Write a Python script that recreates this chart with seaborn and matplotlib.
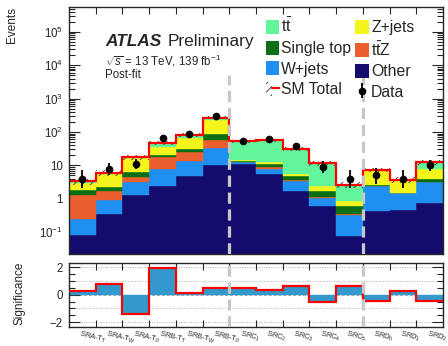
import numpy as np
import pandas as pd
import matplotlib
matplotlib.use("Agg")
import matplotlib.pyplot as plt
import seaborn as sns
from matplotlib.patches import Patch
from matplotlib.lines import Line2D
from matplotlib.legend_handler import HandlerTuple
from matplotlib.ticker import LogLocator, NullFormatter, MultipleLocator

# ---------------- data ----------------
regions = ['SRA-TT', 'SRA-TW', 'SRA-T0', 'SRB-TT', 'SRB-TW', 'SRB-T0',
           'SRC1', 'SRC2', 'SRC3', 'SRC4', 'SRC5', 'SRD0', 'SRD1', 'SRD2']
tick_labels = [r'SRA-T$_{\mathrm{T}}$', r'SRA-T$_{\mathrm{W}}$', r'SRA-T$_{\mathrm{0}}$',
               r'SRB-T$_{\mathrm{T}}$', r'SRB-T$_{\mathrm{W}}$', r'SRB-T$_{\mathrm{0}}$',
               r'SRC$_{\mathrm{1}}$', r'SRC$_{\mathrm{2}}$', r'SRC$_{\mathrm{3}}$',
               r'SRC$_{\mathrm{4}}$', r'SRC$_{\mathrm{5}}$', r'SRD$_{\mathrm{0}}$',
               r'SRD$_{\mathrm{1}}$', r'SRD$_{\mathrm{2}}$']

other     = [0.083, 0.35, 1.32, 2.46, 4.9, 10.3, 11.0, 5.5, 1.74, 0.62, 0.077, 0.44, 0.46, 0.77]
wjets     = [0.163, 0.56, 1.8, 5.4, 8.3, 23.0, 1.3, 2.3, 1.76, 0.43, 0.24, 2.0, 0.98, 2.3]
ttz       = [1.04, 0.75, 1.3, 9.5, 12.8, 25.0, 0.3, 0.9, 0.2, 0.1, 0.02, 0.02, 0.02, 0.05]
singletop = [0.53, 0.52, 1.8, 3.6, 6.0, 30.0, 0.5, 2.3, 1.0, 0.6, 0.25, 0.05, 0.03, 0.75]
zjets     = [1.2, 3.3, 10.4, 15.0, 34.0, 142.0, 1.4, 1.9, 0.8, 0.72, 0.28, 4.6, 2.0, 3.9]
ttbar     = [0.28, 0.5, 0.8, 10.0, 17.0, 40.0, 37.5, 44.7, 25.5, 9.0, 1.75, 0.1, 0.15, 4.7]
sm_rel_unc = [0.22, 0.18, 0.15, 0.14, 0.12, 0.10, 0.10, 0.10, 0.12, 0.15, 0.22, 0.15, 0.2, 0.15]
data      = [4, 8, 11, 68, 88, 300, 55, 62, 38, 9, 4, 5, 4, 10]
significance = [0.24, 0.8, -1.38, 1.95, 0.12, 0.45, 0.45, 0.36, 0.64, -0.5, 0.64, -0.43, 0.29, -0.48]

processes = {
    r't$\bar{\mathrm{t}}$': (ttbar, '#62f59c'),
    'Z+jets': (zjets, '#f5f51e'),
    'Single top': (singletop, '#0a6e14'),
    r't$\bar{\mathrm{t}}$Z': (ttz, '#ea5f2d'),
    'W+jets': (wjets, '#1f8ff0'),
    'Other': (other, '#140c6c'),
}

# ---------------- style ----------------
sns.set_theme(style='ticks')
plt.rcParams['font.family'] = ['Liberation Sans', 'DejaVu Sans']
plt.rcParams['mathtext.fontset'] = 'custom'
plt.rcParams['mathtext.rm'] = 'Liberation Sans'
plt.rcParams['mathtext.it'] = 'Liberation Sans:italic'
plt.rcParams['mathtext.bf'] = 'Liberation Sans:bold'
plt.rcParams['hatch.linewidth'] = 0.6
plt.rcParams['axes.linewidth'] = 1.0

nb = len(regions)
edges = np.arange(nb + 1)
centers = edges[:-1] + 0.5

rows = []
for name, (vals, col) in processes.items():
    for i, v in enumerate(vals):
        rows.append({'x': centers[i], 'events': v, 'process': name})
df = pd.DataFrame(rows)
palette = {k: c for k, (v, c) in processes.items()}
total = np.sum([np.array(v) for v, c in processes.values()], axis=0)

fig = plt.figure(figsize=(4.48, 3.46), dpi=100)
ax = fig.add_axes([69/448, 1-254/346, 374/448, 247/346])
ax2 = fig.add_axes([69/448, 1-327/346, 374/448, 64/346])

# stacked backgrounds
sns.histplot(df, x='x', weights='events', hue='process', hue_order=list(processes.keys()),
             palette=palette, multiple='stack', binwidth=1, binrange=(0, nb), element='bars',
             alpha=1, linewidth=0, legend=False, ax=ax)
for p in ax.patches:
    p.set_edgecolor(p.get_facecolor())
    p.set_linewidth(0.3)
ax.set_yscale('log')

unc = np.array(sm_rel_unc)
ax.stairs(total * (1 + unc), edges, baseline=total * (1 - unc), fill=True,
          facecolor='none', edgecolor='#333333', hatch='////', linewidth=0)
ax.stairs(total, edges, baseline=None, color='#ff0000', linewidth=1.6)

d = np.array(data, dtype=float)
err_up = np.sqrt(d + 0.75) + 1.0
err_dn = np.sqrt(np.maximum(d - 0.25, 0))
eb = ax.errorbar(centers, d, yerr=[err_dn, err_up], fmt='o', color='black',
                 ms=4.5, elinewidth=1.3, capsize=0, zorder=5)

ax.vlines([6, 11], 0.022, 5000, colors='#c8c8c8', linewidth=2.3,
          linestyles=[(0, (3.5, 1.8))], zorder=4)

ax.set_xlim(0, nb)
ax.set_ylim(0.022, 5.6e5)
ax.set_xlabel('')
ax.set_ylabel('')
ax.set_xticks(edges[1:-1])
ax.set_xticklabels([])
ax.set_yticks([0.1, 1, 10, 100, 1e3, 1e4, 1e5],
              labels=[r'$10^{-1}$', '1', '10', r'$10^{2}$', r'$10^{3}$', r'$10^{4}$', r'$10^{5}$'])
ax.yaxis.set_minor_locator(LogLocator(base=10, subs=np.arange(2, 10), numticks=100))
ax.yaxis.set_minor_formatter(NullFormatter())
ax.tick_params(which='both', direction='in', top=True, right=True, width=0.8, labelsize=8.3)
ax.tick_params(axis='y', which='major', length=8, pad=4.5)
ax.tick_params(axis='y', which='minor', length=4)
ax.tick_params(axis='x', which='major', length=5)

# texts
ax.text(0.096, 0.843, 'ATLAS', transform=ax.transAxes, fontsize=12.4,
        fontweight='bold', fontstyle='italic', va='baseline', ha='left')
ax.text(0.265, 0.843, 'Preliminary', transform=ax.transAxes, fontsize=12.4,
        va='baseline', ha='left')
ax.text(0.096, 0.765, r'$\sqrt{s}$ = 13 TeV, 139 fb$^{-1}$', transform=ax.transAxes,
        fontsize=8.3, va='baseline', ha='left')
ax.text(0.096, 0.713, 'Post-fit', transform=ax.transAxes, fontsize=8.3,
        va='baseline', ha='left')

# legend
h_tt = Patch(facecolor=palette[r't$\bar{\mathrm{t}}$'], edgecolor='none')
h_z = Patch(facecolor=palette['Z+jets'], edgecolor='none')
h_st = Patch(facecolor=palette['Single top'], edgecolor='none')
h_ttz = Patch(facecolor=palette[r't$\bar{\mathrm{t}}$Z'], edgecolor='none')
h_w = Patch(facecolor=palette['W+jets'], edgecolor='none')
h_o = Patch(facecolor=palette['Other'], edgecolor='none')
h_sm = (Patch(facecolor='none', edgecolor='#333333', hatch='////', linewidth=0),
        Line2D([0], [0], color='#ff0000', lw=1.6))
handles = [h_tt, h_st, h_w, h_sm, h_z, h_ttz, h_o, eb]
labels = [r't$\bar{\mathrm{t}}$', 'Single top', 'W+jets', 'SM Total',
          'Z+jets', r't$\bar{\mathrm{t}}$Z', 'Other', 'Data']
ax.legend(handles, labels, ncol=2, loc='upper left', bbox_to_anchor=(0.526, 0.958),
          frameon=False, fontsize=11.3, borderpad=0, borderaxespad=0,
          handlelength=0.85, handleheight=1.0, handletextpad=0.15,
          columnspacing=0.25, labelspacing=0.33,
          handler_map={tuple: HandlerTuple(ndivide=None, pad=0)})

# significance panel
sig_df = pd.DataFrame({'x': centers, 'sig': significance})
sns.histplot(sig_df, x='x', weights='sig', binwidth=1, binrange=(0, nb), element='bars',
             color='#3399cc', alpha=1, linewidth=0, ax=ax2)
for p in ax2.patches:
    p.set_edgecolor('#3399cc')
    p.set_linewidth(0.3)
ax2.stairs(significance, edges, baseline=None, color='#ff0000', linewidth=1.6, zorder=3)
for yv in [-2, -1, 1, 2]:
    ax2.axhline(yv, color='#b0b0b0', linestyle=(0, (1, 1.5)), linewidth=0.7, zorder=0.5)
ax2.axhline(0, color='#b0b0b0', linestyle=(0, (3, 2)), linewidth=0.7, zorder=0.5)
ax2.vlines([6, 11], -2.35, 2.3, colors='#c8c8c8', linewidth=2.3,
           linestyles=[(0, (3.5, 1.8))], zorder=4)
ax2.set_xlim(0, nb)
ax2.set_ylim(-2.35, 2.3)
ax2.set_xlabel('')
ax2.set_ylabel('')
ax2.set_yticks([-2, 0, 2], labels=['\u22122', '0', '2'])
ax2.yaxis.set_minor_locator(MultipleLocator(0.5))
ax2.set_xticks(edges[1:-1])
ax2.set_xticklabels([])
ax2.set_xticks(centers - 0.06, minor=True)
ax2.set_xticklabels(tick_labels, minor=True, rotation=-14, ha='left', va='top',
                    rotation_mode='anchor', fontsize=5.4)
ax2.tick_params(which='both', direction='in', top=True, right=True, width=0.8, labelsize=8.3)
ax2.tick_params(axis='y', which='major', length=8, pad=4.5)
ax2.tick_params(axis='y', which='minor', length=4)
ax2.tick_params(axis='x', which='major', length=5)
ax2.tick_params(axis='x', which='minor', length=0, pad=1.2, labelsize=5.4)

fig.text(11.7/448, 1-7.3/346, 'Events', rotation=90, ha='center', va='top', fontsize=8.5)
fig.text(20/448, 1-293/346, 'Significance', rotation=90, ha='center', va='center', fontsize=8.5)

fig.savefig('out.png', dpi=100)
